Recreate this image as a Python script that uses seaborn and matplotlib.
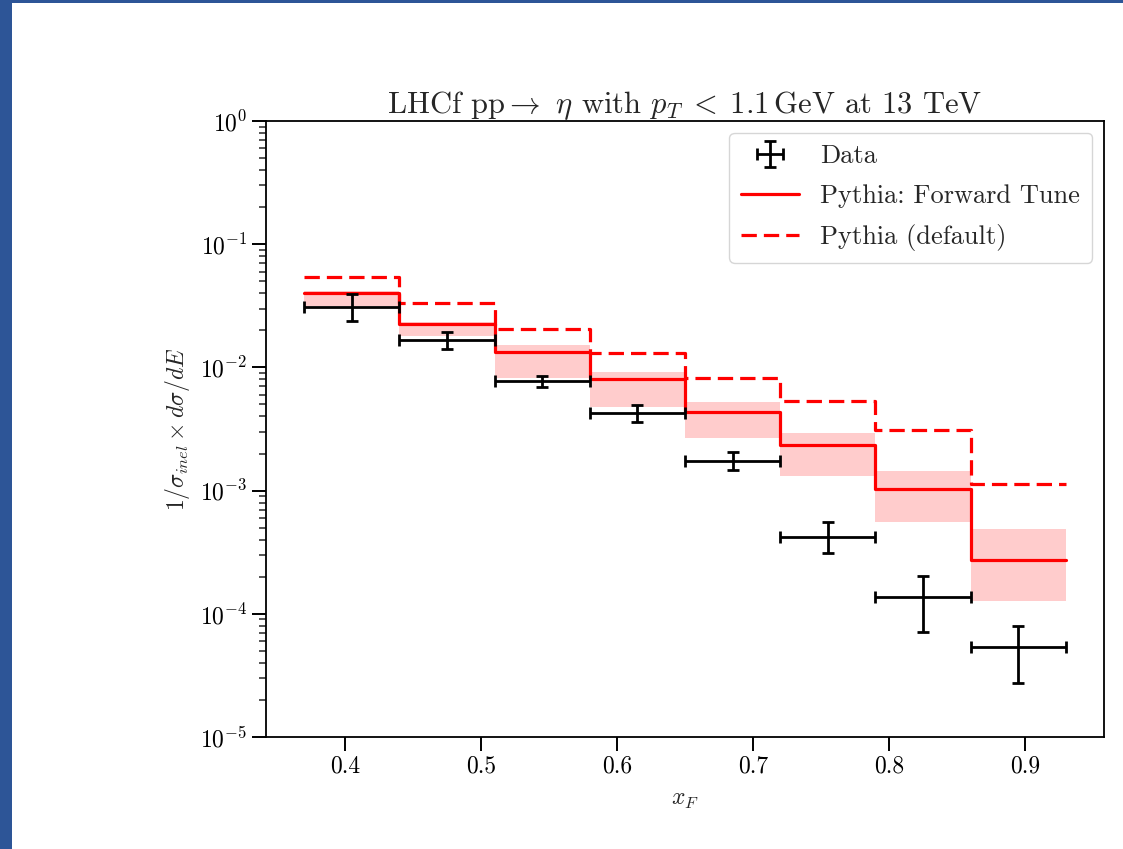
import numpy as np
import pandas as pd
import matplotlib
matplotlib.use("Agg")
import matplotlib.pyplot as plt
import seaborn as sns
from matplotlib.patches import Rectangle
from matplotlib.lines import Line2D

# ---- data ----
bin_edges = [0.37, 0.44, 0.51, 0.58, 0.65, 0.72, 0.79, 0.86, 0.93]
data_val = [0.0307, 0.0167, 0.00776, 0.00430, 0.00175, 0.000423, 0.000138, 0.0000541]
data_hi = [0.0393, 0.0193, 0.00851, 0.00495, 0.00207, 0.000560, 0.000203, 0.0000801]
data_lo = [0.0236, 0.0141, 0.00698, 0.00363, 0.00147, 0.000310, 0.0000716, 0.0000276]
fwd_tune = [0.0399, 0.0225, 0.01325, 0.0080, 0.00437, 0.00234, 0.00104, 0.000273]
fwd_band_hi = [0.0420, 0.0235, 0.0152, 0.00922, 0.00527, 0.00292, 0.00143, 0.000485]
fwd_band_lo = [0.0315, 0.0181, 0.00815, 0.00480, 0.00266, 0.00132, 0.00056, 0.000128]
default = [0.0539, 0.0335, 0.0204, 0.0130, 0.00815, 0.00533, 0.00310, 0.00113]

title = r"LHCf pp$\rightarrow$ $\eta$ with $p_T\;<\;1.1\,$GeV at 13 TeV"
xlabel = r"$x_F$"
ylabel = r"$1/\sigma_{inel} \times d\sigma/dE$"
legend_labels = ["Data", "Pythia: Forward Tune", "Pythia (default)"]
xtick_vals = [0.4, 0.5, 0.6, 0.7, 0.8, 0.9]
xtick_labels = ["0.4", "0.5", "0.6", "0.7", "0.8", "0.9"]

# ---- style ----
sns.set_style("ticks")
plt.rcParams["font.family"] = ["cmr10", "DejaVu Serif"]
plt.rcParams["mathtext.fontset"] = "cm"
plt.rcParams["axes.formatter.use_mathtext"] = True
plt.rcParams["axes.unicode_minus"] = False

FS = 17

edges = np.array(bin_edges)
centers = 0.5 * (edges[:-1] + edges[1:])
halfw = 0.5 * (edges[1:] - edges[:-1])

fig = plt.figure(figsize=(11.23, 8.49), dpi=100)
fig.patch.set_facecolor("white")
# blue frame of the slide
fig.patches.append(Rectangle((0, 0), 12 / 1123, 1, transform=fig.transFigure,
                             facecolor="#2D5597", edgecolor="none", zorder=0))
fig.patches.append(Rectangle((0, 1 - 3 / 849), 1, 3 / 849, transform=fig.transFigure,
                             facecolor="#2D5597", edgecolor="none", zorder=0))

ax = fig.add_axes([266 / 1123, 1 - 737 / 849, (1104 - 266) / 1123, (737 - 121) / 849])

df = pd.DataFrame({
    "x": list(edges),
    "fwd": fwd_tune + [fwd_tune[-1]],
    "dflt": default + [default[-1]],
    "hi": fwd_band_hi + [fwd_band_hi[-1]],
    "lo": fwd_band_lo + [fwd_band_lo[-1]],
})

DASH = (0, (4.8, 2.2))
ax.fill_between(df["x"], df["lo"], df["hi"], step="post", color="red", alpha=0.2,
                linewidth=0, zorder=1)
sns.lineplot(data=df, x="x", y="fwd", ax=ax, color="red", lw=2.3,
             drawstyle="steps-post", zorder=3)
sns.lineplot(data=df, x="x", y="dflt", ax=ax, color="red", lw=2.3,
             drawstyle="steps-post", linestyle=DASH, zorder=3)

dv = np.array(data_val)
yerr = np.vstack([dv - np.array(data_lo), np.array(data_hi) - dv])
eb = ax.errorbar(centers, dv, xerr=halfw, yerr=yerr, fmt="none", ecolor="black",
                 elinewidth=2.0, capsize=4, capthick=2.0, zorder=4)

ax.set_yscale("log")
ax.set_ylim(1e-5, 1e0)
ax.set_xticks(xtick_vals)
ax.set_xticklabels(xtick_labels)

ax.set_title(title, fontsize=22, pad=6)
ax.set_xlabel(xlabel, fontsize=FS, labelpad=8)
ax.set_ylabel(ylabel, fontsize=FS, labelpad=6)

ax.tick_params(axis="both", which="major", direction="out", length=10, width=1.4,
               labelsize=FS, colors="black", top=False, right=False)
ax.tick_params(axis="y", which="minor", direction="out", length=5, width=1.1,
               left=True, right=False)
ax.tick_params(axis="x", which="minor", bottom=False, top=False)
for s in ax.spines.values():
    s.set_linewidth(1.3)
    s.set_color("black")
    s.set_visible(True)

h_solid = Line2D([], [], color="red", lw=2.3)
h_dash = Line2D([], [], color="red", lw=2.3, linestyle=DASH)
leg = ax.legend([eb, h_solid, h_dash], legend_labels, loc="upper right",
                fontsize=19, frameon=True, fancybox=True, framealpha=0.8,
                edgecolor="#cccccc", borderpad=0.45, handlelength=2.2,
                labelspacing=0.6, borderaxespad=0.45)

fig.savefig("out.png", dpi=100)
